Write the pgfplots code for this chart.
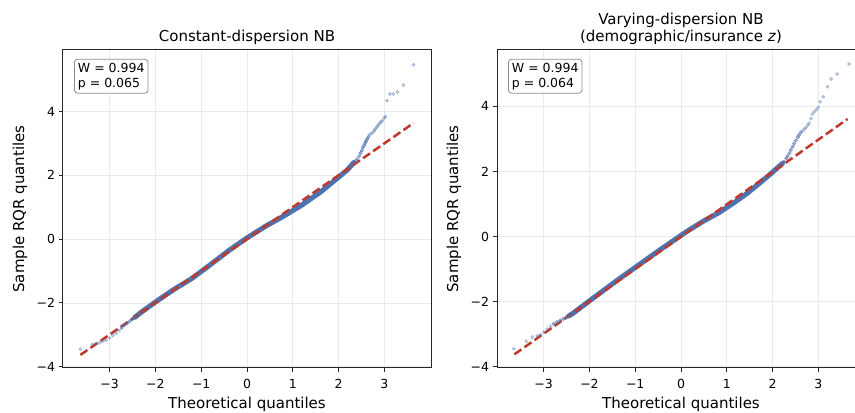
\documentclass[border=0pt]{standalone}
\usepackage{fontspec}
\setmainfont{DejaVu Sans}
\usepackage{pgfplots}
\pgfplotsset{compat=1.18}
\definecolor{qqblue}{RGB}{76,114,176}
\definecolor{qqred}{RGB}{192,57,43}
\definecolor{gridgray}{RGB}{235,235,235}

\tikzset{
  statbox/.style={draw=black!45, line width=0.8bp, rounded corners=3bp, fill=white, anchor=north west,
    inner sep=3.5bp, align=left, font=\fontsize{12.5bp}{15bp}\selectfont},
}
\pgfplotsset{
  qqaxis/.style={
    scale only axis, width=368bp, height=318bp,
    anchor=south west,
    xmin=-4.02, xmax=4.02,
    xtick={-3,-2,-1,0,1,2,3},
    xticklabels={−3,−2,−1,0,1,2,3},
    ytick={-4,-2,0,2,4},
    yticklabels={−4,−2,0,2,4},
    tick align=outside, xtick pos=lower, ytick pos=left,
    major tick length=4.4bp,
    tick style={line width=1bp, color=black!85},
    axis line style={line width=1bp, color=black!85},
    grid=major, major grid style={line width=0.8bp, color=gridgray},
    tick label style={font=\fontsize{12.5bp}{14bp}\selectfont},
    xticklabel style={yshift=-3bp},
    label style={font=\fontsize{15bp}{17bp}\selectfont},
    xlabel={Theoretical quantiles},
    ylabel={Sample RQR quantiles},
    xlabel style={at={(axis description cs:0.5,0)}, anchor=center, yshift=-36bp},
    ylabel style={at={(axis description cs:0,0.5)}, anchor=center, yshift=43bp},
    title style={at={(axis description cs:0.5,1)}, anchor=south, inner sep=0pt, yshift=-1bp,
      align=center, font=\fontsize{15bp}{17bp}\selectfont},
    clip=false,
  },
  band/.style={no marks, line width=5bp, color=qqblue, line cap=round, line join=round},
  tail/.style={only marks, mark=*, mark size=1.7bp, color=qqblue, opacity=0.38},
  taildense/.style={only marks, mark=*, mark size=1.8bp, color=qqblue, opacity=0.6},
  refline/.style={no marks, color=qqred, line width=2.5bp, dash pattern=on 8.5bp off 3.8bp},
}

\begin{document}
\begin{tikzpicture}
% ---------------- Left panel ----------------
\begin{axis}[qqaxis, at={(63bp,45bp)}, ymin=-4.04, ymax=5.93,
  title={Constant-dispersion NB}]
\addplot[tail] coordinates {
(-3.64,-3.45) (-3.38,-3.30) (-3.30,-3.27) (-3.22,-3.25) (-3.15,-3.20) (-3.08,-3.17)
(-3.00,-3.10) (-2.93,-3.02) (-2.86,-2.95) (-2.80,-2.87)
};
\addplot[taildense] coordinates {
(-2.74,-2.78) (-2.68,-2.70) (-2.62,-2.64) (-2.56,-2.57) (-2.50,-2.50) (-2.45,-2.44)
};
\addplot[band] coordinates {
(-2.45,-2.45) (-2.3,-2.28) (-2.0,-1.97) (-1.6,-1.58) (-1.2,-1.23) (-0.8,-0.80)
(-0.4,-0.36) (0,0.04) (0.4,0.40) (0.8,0.72) (1.2,1.07) (1.6,1.47) (2.0,1.94)
(2.2,2.18) (2.33,2.40)
};
\addplot[taildense] coordinates {
(2.35,2.43) (2.40,2.50) (2.45,2.60) (2.48,2.70) (2.51,2.78) (2.53,2.87) (2.56,2.94)
(2.58,3.01) (2.60,3.07) (2.62,3.13) (2.65,3.20)
};
\addplot[tail] coordinates {
(2.67,3.27) (2.71,3.31) (2.75,3.34)
(2.78,3.40) (2.80,3.45) (2.83,3.50) (2.85,3.55) (2.88,3.60) (2.91,3.64) (2.93,3.68)
(2.96,3.72) (3.00,3.80) (3.02,3.84) (3.06,4.34) (3.12,4.55) (3.20,4.55) (3.29,4.61)
(3.42,4.83) (3.64,5.47)
};
\addplot[refline] coordinates {(-3.64,-3.63) (3.64,3.64)};
\node[statbox] at (rel axis cs:0.03,0.972) {W = 0.994\\p = 0.065};
\end{axis}
% ---------------- Right panel ----------------
\begin{axis}[qqaxis, at={(497bp,45bp)}, ymin=-4.04, ymax=5.73,
  title={Varying-dispersion NB\\(demographic/insurance \textit{z})}]
\addplot[tail] coordinates {
(-3.65,-3.45) (-3.38,-3.22) (-3.25,-3.09) (-3.14,-3.05) (-3.07,-3.02) (-3.00,-2.94)
(-2.92,-2.85) (-2.85,-2.76)
};
\addplot[taildense] coordinates {
(-2.78,-2.68) (-2.71,-2.63) (-2.64,-2.58) (-2.57,-2.53)
(-2.50,-2.47) (-2.45,-2.43)
};
\addplot[band] coordinates {
(-2.45,-2.44) (-2.35,-2.35) (-2.06,-2.04) (-1.62,-1.58) (-1.3,-1.25) (-0.97,-0.92)
(-0.46,-0.41) (0.12,0.15) (0.5,0.48) (0.84,0.74) (1.15,1.03) (1.42,1.30) (1.7,1.62)
(1.93,1.89) (2.22,2.25)
};
\addplot[taildense] coordinates {
(2.25,2.30) (2.30,2.40) (2.33,2.47) (2.37,2.56) (2.40,2.66) (2.44,2.76) (2.47,2.86)
(2.51,2.95) (2.55,3.05) (2.58,3.12) (2.62,3.20)
};
\addplot[tail] coordinates {
(2.66,3.25) (2.70,3.30) (2.73,3.35)
(2.77,3.42) (2.80,3.48) (2.84,3.62) (2.87,3.76) (2.91,3.83) (2.96,3.90) (3.00,3.97)
(3.04,4.14) (3.11,4.29) (3.20,4.60) (3.28,4.84) (3.41,4.99) (3.67,5.30)
};
\addplot[refline] coordinates {(-3.64,-3.62) (3.64,3.61)};
\node[statbox] at (rel axis cs:0.03,0.972) {W = 0.994\\p = 0.064};
\end{axis}
\pgfresetboundingbox
\useasboundingbox (0,0) rectangle (855bp,413bp);
\end{tikzpicture}
\end{document}
